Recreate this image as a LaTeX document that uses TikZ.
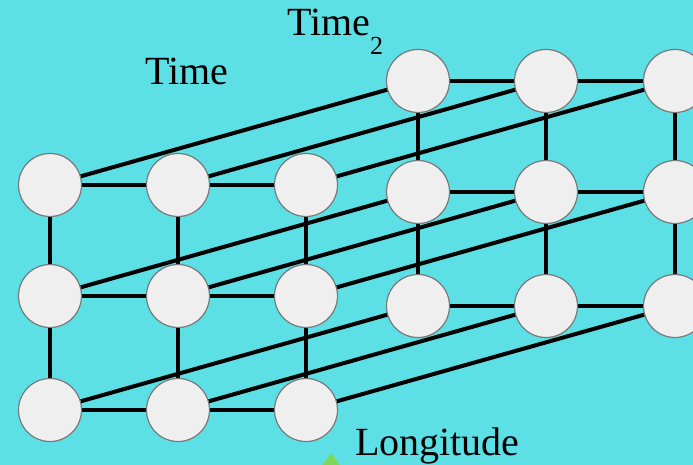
\documentclass[tikz,border=0pt]{standalone}
\usepackage{fontspec}
\setmainfont{Liberation Serif}
\definecolor{bgcyan}{RGB}{92,224,230}
\definecolor{nodefill}{RGB}{239,239,239}
\definecolor{nodeedge}{RGB}{120,120,120}
\definecolor{trigreen}{RGB}{126,214,90}
\pgfdeclarelayer{edges}
\pgfsetlayers{edges,main}
\tikzset{
  dot/.style={circle, fill=nodefill, draw=nodeedge, line width=1.2pt, minimum size=63pt, inner sep=0pt},
  link/.style={line width=4pt, black},
  lbl/.style={anchor=base west, inner sep=0pt, font=\fontsize{40}{40}\selectfont, text=black}
}
\begin{document}
\begin{tikzpicture}[x=1pt,y=-1pt]
\useasboundingbox (0,0) rectangle (693,465);
% front grid
\foreach \c/\x in {1/50,2/178,3/306}{
  \foreach \r/\y in {1/185,2/296,3/410}{
    \node[dot] (f\c\r) at (\x,\y) {};
  }
}
% back grid
\foreach \c/\x in {1/418,2/546,3/675}{
  \foreach \r/\y in {1/81,2/192,3/306}{
    \node[dot] (b\c\r) at (\x,\y) {};
  }
}
\begin{pgfonlayer}{edges}
\fill[bgcyan] (0,0) rectangle (693,465);
\foreach \g in {f,b}{
  \foreach \r in {1,2,3}{
    \draw[link] (\g1\r.center) -- (\g2\r.center) -- (\g3\r.center);
  }
  \foreach \c in {1,2,3}{
    \draw[link] (\g\c1.center) -- (\g\c2.center) -- (\g\c3.center);
  }
}
\foreach \c in {1,2,3}{
  \foreach \r in {1,2,3}{
    \draw[link] (f\c\r.center) -- (b\c\r.center);
  }
}
\end{pgfonlayer}
\node[lbl] (time) at (145,85) {Time};
\node[lbl] (time2) at (287,36) {Time\raisebox{-19pt}{\fontsize{26}{26}\selectfont 2}};
\node[lbl] (lon) at (355,455) {Longitude};
\fill[trigreen] (331,453) -- (345,472) -- (317,472) -- cycle;
\end{tikzpicture}
\end{document}
